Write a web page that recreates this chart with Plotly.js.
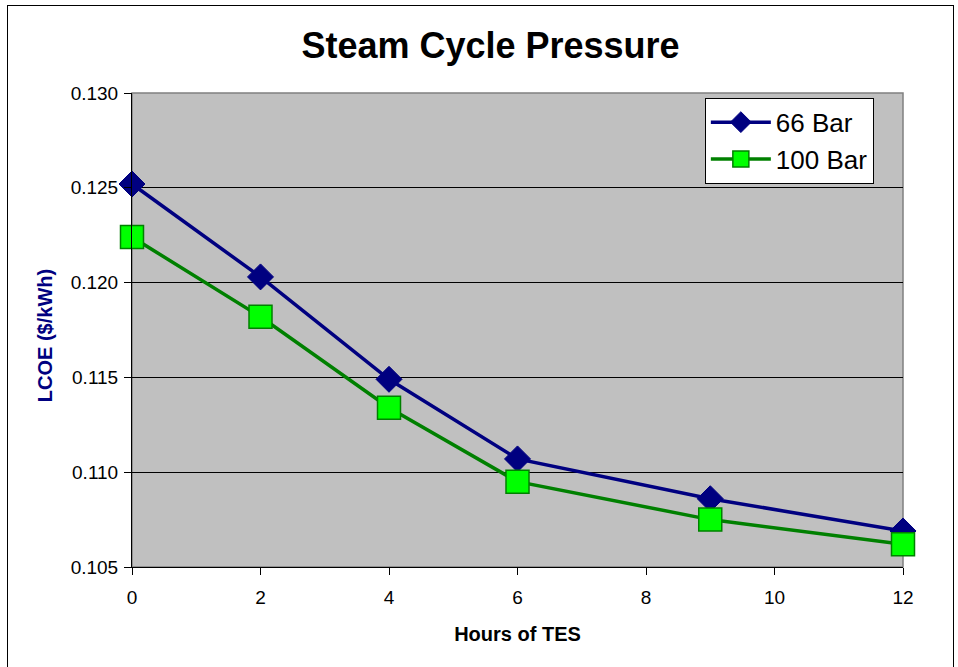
<!DOCTYPE html>
<html>
<head>
<meta charset="utf-8">
<script src="https://cdn.plot.ly/plotly-3.0.1.min.js"></script>
<style>
html,body{margin:0;padding:0;background:#fff;}
#wrap{position:relative;width:958px;height:667px;overflow:hidden;}
#frame{position:absolute;left:7px;top:5px;width:945px;height:700px;border:1px solid #000;pointer-events:none;z-index:5;}
#chart{position:absolute;left:0;top:0;width:958px;height:667px;}
</style>
</head>
<body>
<div id="wrap"><div id="chart"></div><div id="frame"></div></div>
<script>
const hours = [0, 2, 4, 6, 9, 12];
const bar66 = [0.1252, 0.1203, 0.1149, 0.1107, 0.1086, 0.1069];
const bar100 = [0.1224, 0.1182, 0.1134, 0.1095, 0.1075, 0.1062];
const xTicks = [0, 2, 4, 6, 8, 10, 12];
const yTicks = [0.105, 0.110, 0.115, 0.120, 0.125, 0.130];

const traces = [
  {x: hours, y: bar66, name: '66 Bar', mode: 'lines+markers', cliponaxis: false,
   line: {color: '#000080', width: 3.5},
   marker: {symbol: 'diamond', size: 20, color: '#000080', line: {color: '#000080', width: 1}}},
  {x: hours, y: bar100, name: '100 Bar', mode: 'lines+markers', cliponaxis: false,
   line: {color: '#008000', width: 3.5},
   marker: {symbol: 'square', size: 23, color: '#00ff00', line: {color: '#008000', width: 1.5}}}
];

const layout = {
  width: 958, height: 667,
  margin: {l: 132, r: 55, t: 93, b: 100},
  paper_bgcolor: 'rgba(0,0,0,0)',
  plot_bgcolor: '#c0c0c0',
  font: {family: 'Arial, "Liberation Sans", sans-serif', color: '#000', size: 19},
  title: {text: '<b>Steam Cycle Pressure</b>', x: 0.512, xanchor: 'center', y: 0.932, yanchor: 'middle',
          font: {size: 36, color: '#000'}},
  xaxis: {range: [0, 12], tickvals: xTicks, ticktext: xTicks.map(String),
          showgrid: false, zeroline: false, showline: true, linecolor: '#000', linewidth: 1,
          ticks: 'outside', ticklen: 7, tickcolor: '#000', tickfont: {size: 19}, ticklabelstandoff: 6,
          title: {text: '<b>Hours of TES</b>', font: {size: 20, color: '#000'}, standoff: 20}},
  yaxis: {range: [0.105, 0.130], tickvals: yTicks, ticktext: yTicks.map(v => v.toFixed(3)),
          showgrid: true, gridcolor: '#000', gridwidth: 1, zeroline: false,
          showline: true, linecolor: '#000', linewidth: 1,
          ticks: 'outside', ticklen: 7, tickcolor: '#000', tickfont: {size: 19}, ticklabelstandoff: 2},
  annotations: [{text: '<b>LCOE ($/kWh)</b>', textangle: -90, xref: 'paper', yref: 'paper',
                 x: -0.1128, y: 0.487, xanchor: 'center', yanchor: 'middle', showarrow: false,
                 font: {size: 20, color: '#000080'}}],
  legend: {x: 0.743, y: 0.99, xanchor: 'left', yanchor: 'top', bgcolor: '#fff',
           bordercolor: '#000', borderwidth: 1, font: {size: 26, color: '#000'},
           tracegroupgap: 0, itemwidth: 60},
  shapes: [{type: 'rect', xref: 'paper', yref: 'paper', x0: 0, x1: 1, y0: 0, y1: 1,
            line: {color: '#808080', width: 1.5}, layer: 'below'}],
  showlegend: true
};
Plotly.newPlot('chart', traces, layout, {displayModeBar: false, staticPlot: true});
</script>
</body>
</html>
